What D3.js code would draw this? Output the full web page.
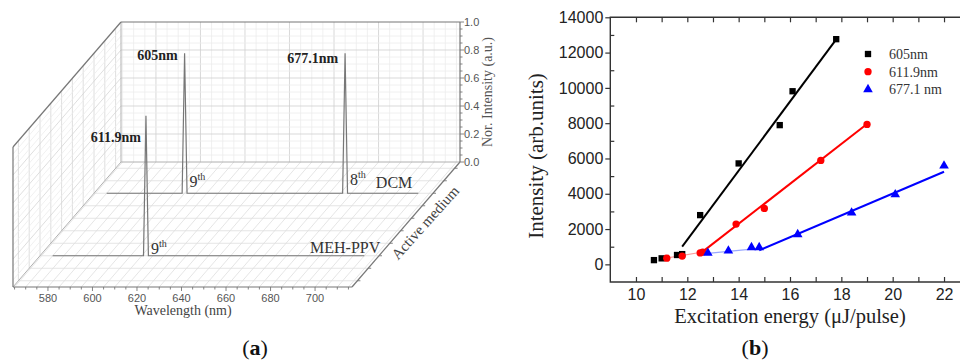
<!DOCTYPE html>
<html>
<head>
<meta charset="utf-8">
<script src="https://cdn.jsdelivr.net/npm/d3@7"></script>
<style>
body { margin: 0; background: #fff; }
</style>
</head>
<body>
<svg id="chart" width="960" height="362"></svg>
<script>
// ---- panel (a): normalized spectra ----
var wavelengthTicks = [580, 600, 620, 640, 660, 680, 700];
var intensityTicks = [0, 0.2, 0.4, 0.6, 0.8, 1.0];
var mediumNames = ['MEH-PPV', 'DCM'];
var mediumDepth = [1, 2];
var mehWavelength = [570, 610.8, 611.9, 613.0, 710];
var mehIntensity = [0, 0, 1, 0, 0];
var dcmWavelength = [570, 603.9, 605, 606.1, 676.0, 677.1, 678.2, 710];
var dcmIntensity = [0, 0, 1, 0, 0, 1, 0, 0];
var peakNames = ['611.9nm', '605nm', '677.1nm'];
var peakWavelength = [611.9, 605, 677.1];
var peakMedium = [0, 1, 1];
var peakOrder = ['9', '9', '8'];

// ---- panel (b): output vs pump energy ----
var energyTicks = [10, 12, 14, 16, 18, 20, 22];
var countTicks = [0, 2000, 4000, 6000, 8000, 10000, 12000, 14000];
var e605 = [10.7, 11.0, 11.6, 11.8, 12.5, 14.0, 15.6, 16.1, 17.8];
var i605 = [240, 340, 530, 580, 2790, 5720, 7890, 9810, 12760];
var e612 = [11.2, 11.8, 12.5, 12.6, 13.9, 15.0, 17.2, 19.0];
var i612 = [350, 470, 650, 690, 2280, 3170, 5890, 7930];
var e677 = [12.8, 13.6, 14.5, 14.8, 16.3, 18.4, 20.1, 22.0];
var i677 = [640, 770, 960, 960, 1700, 2920, 3960, 5590];
var fitE605 = [11.8, 17.8], fitI605 = [1000, 12750];
var lowE612 = [11.0, 12.6], lowI612 = [310, 700];
var fitE612 = [12.6, 19.0], fitI612 = [720, 7950];
var lowE677 = [12.8, 14.8], lowI677 = [620, 900];
var fitE677 = [14.8, 22.0], fitI677 = [800, 5250];
var legendNames = ['605nm', '611.9nm', '677.1 nm'];

var svg = d3.select('#chart');
var serif = '"Liberation Serif", "Times New Roman", serif';
var sans = '"Liberation Sans", Arial, sans-serif';

// ================= panel (a) =================
var wx = d3.scaleLinear().domain([564.3, 716.6]).range([13, 352]);
var vy = d3.scaleLinear().domain([0, 1]).range([287, 147]);
var dz = d3.scaleLinear().domain([0.5, 2.5]).range([0, 1]);
var depthDx = 108, depthDy = -125;
var wMin = 564.3, wMax = 716.6, dMin = 0.5, dMax = 2.5;

function proj(w, d, v) {
	var z = dz(d);
	return [wx(w) + depthDx * z, vy(v) + depthDy * z];
}

var ga = svg.append('g');
function seg(p, q, col, sw) {
	ga.append('line')
		.attr('x1', p[0]).attr('y1', p[1])
		.attr('x2', q[0]).attr('y2', q[1])
		.attr('stroke', col).attr('stroke-width', sw || 0.8);
}

var fineW = d3.range(565, 716, 5);
var fineV = d3.range(0.05, 1, 0.05);
var depthLines = d3.range(0.6, 2.45, 0.2);

// back wall grid
fineW.forEach(function(w) {
	var major = wavelengthTicks.indexOf(w) >= 0;
	seg(proj(w, dMax, 0), proj(w, dMax, 1), major ? '#cfcfcf' : '#ececec');
});
fineV.forEach(function(v) {
	var major = Math.abs(v * 5 - Math.round(v * 5)) < 1e-6;
	seg(proj(wMin, dMax, v), proj(wMax, dMax, v), major ? '#cfcfcf' : '#ececec');
});
// left wall grid
depthLines.forEach(function(d) {
	seg(proj(wMin, d, 0), proj(wMin, d, 1), '#d6d6d6');
});
fineV.forEach(function(v) {
	var major = Math.abs(v * 5 - Math.round(v * 5)) < 1e-6;
	seg(proj(wMin, dMin, v), proj(wMin, dMax, v), major ? '#d6d6d6' : '#ececec');
});
// floor grid
fineW.forEach(function(w) {
	seg(proj(w, dMin, 0), proj(w, dMax, 0), '#dedede');
});
depthLines.forEach(function(d) {
	seg(proj(wMin, d, 0), proj(wMax, d, 0), '#dedede');
});

// box edges
seg(proj(wMin, dMax, 0), proj(wMax, dMax, 0), '#b0b0b0', 1);
seg(proj(wMin, dMax, 0), proj(wMin, dMax, 1), '#b0b0b0', 1);
seg(proj(wMin, dMin, 0), proj(wMin, dMax, 0), '#b0b0b0', 1);
seg(proj(wMin, dMax, 1), proj(wMax, dMax, 1), '#777', 1.2);
seg(proj(wMax, dMax, 0), proj(wMax, dMax, 1), '#777', 1.2);
seg(proj(wMin, dMin, 1), proj(wMin, dMax, 1), '#777', 1.2);
seg(proj(wMin, dMin, 0), proj(wMin, dMin, 1), '#777', 1.2);
seg(proj(wMin, dMin, 0), proj(wMax, dMin, 0), '#777', 1.2);
seg(proj(wMax, dMin, 0), proj(wMax, dMax, 0), '#777', 1.2);

// wavelength ticks on front edge
fineW.forEach(function(w) {
	var p = proj(w, dMin, 0);
	var major = wavelengthTicks.indexOf(w) >= 0;
	seg(p, [p[0], p[1] + (major ? 4 : 2.5)], '#777', 0.9);
});
ga.selectAll('text.wl')
	.data(wavelengthTicks)
	.enter().append('text')
	.attr('x', function(d) { return proj(d, dMin, 0)[0]; })
	.attr('y', 302)
	.attr('text-anchor', 'middle')
	.attr('font-family', sans).attr('font-size', 11).attr('fill', '#555')
	.text(function(d) { return d; });
ga.append('text')
	.attr('x', 183).attr('y', 315)
	.attr('text-anchor', 'middle')
	.attr('font-family', serif).attr('font-size', 14).attr('fill', '#444')
	.text('Wavelength (nm)');

// intensity ticks on back right edge
fineV.concat([0, 1]).forEach(function(v) {
	var p = proj(wMax, dMax, v);
	var major = Math.abs(v * 5 - Math.round(v * 5)) < 1e-6;
	seg(p, [p[0] + (major ? 4 : 2.5), p[1]], '#777', 0.9);
});
ga.selectAll('text.int')
	.data(intensityTicks)
	.enter().append('text')
	.attr('x', proj(wMax, dMax, 0)[0] + 4)
	.attr('y', function(d) { return proj(wMax, dMax, d)[1]; })
	.attr('dy', '0.35em')
	.attr('font-family', sans).attr('font-size', 11).attr('fill', '#555')
	.text(function(d) { return d.toFixed(1); });
ga.append('text')
	.attr('transform', 'translate(492,92) rotate(-90)')
	.attr('text-anchor', 'middle')
	.attr('font-family', serif).attr('font-size', 14).attr('fill', '#555')
	.text('Nor. Intensity (a.u.)');

// depth ticks on floor right edge
depthLines.forEach(function(d) {
	var p = proj(wMax, d, 0);
	seg(p, [p[0] + 3, p[1]], '#777', 0.9);
});
ga.append('text')
	.attr('transform', 'translate(429,226) rotate(-48)')
	.attr('text-anchor', 'middle')
	.attr('font-family', serif).attr('font-size', 15).attr('fill', '#444')
	.text('Active medium');

// spectra
var spectra = [
	{w: mehWavelength, v: mehIntensity, d: mediumDepth[0]},
	{w: dcmWavelength, v: dcmIntensity, d: mediumDepth[1]}
];
var specLine = d3.line();
spectra.forEach(function(s) {
	var pts = s.w.map(function(w, i) { return proj(w, s.d, s.v[i]); });
	ga.append('path')
		.attr('d', specLine(pts))
		.attr('fill', 'none')
		.attr('stroke', '#777')
		.attr('stroke-width', 1.2);
});

// medium labels
var mediumLabelDx = [16, -6], mediumLabelDy = [-3, -5];
mediumNames.forEach(function(name, i) {
	var p = proj(710, mediumDepth[i], 0);
	ga.append('text')
		.attr('x', p[0] + mediumLabelDx[i]).attr('y', p[1] + mediumLabelDy[i])
		.attr('text-anchor', 'end')
		.attr('font-family', serif).attr('font-size', 16).attr('fill', '#333')
		.text(name);
});

// peak labels and diffraction orders
var peakLabelDx = [-5, -7, -7], peakLabelDy = [26, 7, 10];
var orderDy = [-2, -6, -8];
peakNames.forEach(function(name, i) {
	var d = mediumDepth[peakMedium[i]];
	var top = proj(peakWavelength[i], d, 1);
	var base = proj(peakWavelength[i], d, 0);
	ga.append('text')
		.attr('x', top[0] + peakLabelDx[i]).attr('y', top[1] + peakLabelDy[i])
		.attr('text-anchor', 'end')
		.attr('font-family', serif).attr('font-size', 14).attr('font-weight', 'bold')
		.attr('fill', '#222')
		.text(name);
	var t = ga.append('text')
		.attr('x', base[0] + 5).attr('y', base[1] + orderDy[i])
		.attr('font-family', serif).attr('font-size', 16).attr('fill', '#333');
	t.append('tspan').text(peakOrder[i]);
	t.append('tspan').attr('font-size', 10).attr('dy', -7).text('th');
});

ga.append('text')
	.attr('x', 255).attr('y', 355)
	.attr('text-anchor', 'middle')
	.attr('font-family', serif).attr('font-size', 22).attr('fill', '#111')
	.html('(<tspan font-weight="bold">a</tspan>)');

// ================= panel (b) =================
var gb = svg.append('g');
var x = d3.scaleLinear().domain([9, 23]).range([610.3, 969.7]);
var y = d3.scaleLinear().domain([-1000, 14000]).range([282, 17.3]);

// frame
gb.append('path')
	.attr('d', 'M' + x(23) + ',' + y(14000) + 'H' + x(9) + 'V' + y(-1000) + 'H' + x(23))
	.attr('fill', 'none').attr('stroke', '#333').attr('stroke-width', 1.4);

// left axis: major ticks out, minor ticks in
var yMajor = d3.axisLeft(y).tickValues(countTicks).tickSize(5).tickPadding(2).tickFormat(d3.format('d'));
gb.append('g').attr('transform', 'translate(' + x(9) + ',0)').call(yMajor)
	.call(function(g) {
		g.select('.domain').remove();
		g.selectAll('line').attr('stroke', '#333').attr('stroke-width', 1.2);
		g.selectAll('text').attr('font-family', sans).attr('font-size', 16).attr('fill', '#222');
	});
var yMinor = d3.axisRight(y).tickValues(d3.range(1000, 14000, 2000)).tickSize(4).tickFormat('');
gb.append('g').attr('transform', 'translate(' + x(9) + ',0)').call(yMinor)
	.call(function(g) {
		g.select('.domain').remove();
		g.selectAll('line').attr('stroke', '#333').attr('stroke-width', 1.2);
	});

// bottom axis: ticks inward
var xAxis = d3.axisBottom(x).tickValues(energyTicks).tickSize(0).tickPadding(6.5);
gb.append('g').attr('transform', 'translate(0,' + y(-1000) + ')').call(xAxis)
	.call(function(g) {
		g.select('.domain').remove();
		g.selectAll('text').attr('font-family', sans).attr('font-size', 16).attr('fill', '#222');
	});
var xIn = d3.axisTop(x).tickValues(d3.range(10, 23, 1)).tickSize(5).tickFormat('');
gb.append('g').attr('transform', 'translate(0,' + (y(-1000) - 5) + ')').call(xIn)
	.call(function(g) {
		g.select('.domain').remove();
		g.selectAll('line').attr('stroke', '#333').attr('stroke-width', 1.2).attr('y2', 5);
	});
var xTop = d3.axisBottom(x).tickValues(d3.range(10, 23, 1)).tickSize(5).tickFormat('');
gb.append('g').attr('transform', 'translate(0,' + y(14000) + ')').call(xTop)
	.call(function(g) {
		g.select('.domain').remove();
		g.selectAll('line').attr('stroke', '#333').attr('stroke-width', 1.2);
	});

gb.append('text')
	.attr('transform', 'translate(543,156) rotate(-90)')
	.attr('text-anchor', 'middle')
	.attr('font-family', serif).attr('font-size', 21).attr('fill', '#222')
	.text('Intensity (arb.units)');
gb.append('text')
	.attr('x', 790).attr('y', 323)
	.attr('text-anchor', 'middle')
	.attr('font-family', serif).attr('font-size', 20.5).attr('fill', '#222')
	.text('Excitation energy (\u03bcJ/pulse)');

// fit lines
var fitLine = d3.line()
	.x(function(d) { return x(d[0]); })
	.y(function(d) { return y(d[1]); });
function drawFit(es, is, col, sw) {
	gb.append('path')
		.attr('d', fitLine(es.map(function(e, i) { return [e, is[i]]; })))
		.attr('fill', 'none').attr('stroke', col).attr('stroke-width', sw);
}
drawFit(lowE612, lowI612, '#ff9a9a', 1.2);
drawFit(lowE677, lowI677, '#9aa8ff', 1.2);
drawFit(fitE605, fitI605, '#000', 2);
drawFit(fitE612, fitI612, '#ff0000', 2);
drawFit(fitE677, fitI677, '#0000ff', 2);

// markers
var symSquare = d3.symbol().type(d3.symbolSquare).size(40);
var symCircle = d3.symbol().type(d3.symbolCircle).size(42);
var symTriangle = d3.symbol().type(d3.symbolTriangle).size(40);
function drawPts(es, is, sym, col) {
	gb.append('g').selectAll('path')
		.data(es)
		.enter().append('path')
		.attr('d', sym)
		.attr('transform', function(d, i) { return 'translate(' + x(d) + ',' + y(is[i]) + ')'; })
		.attr('fill', col);
}
drawPts(e605, i605, symSquare, '#000');
drawPts(e612, i612, symCircle, '#ff0000');
drawPts(e677, i677, symTriangle, '#0000ff');

// legend
var legendSyms = [symSquare, symCircle, symTriangle];
var legendCols = ['#000', '#ff0000', '#0000ff'];
legendNames.forEach(function(name, i) {
	var ly = 54 + i * 17.7;
	gb.append('path').attr('d', legendSyms[i])
		.attr('transform', 'translate(868,' + ly + ')')
		.attr('fill', legendCols[i]);
	gb.append('text')
		.attr('x', 889).attr('y', ly).attr('dy', '0.35em')
		.attr('font-family', serif).attr('font-size', 14).attr('fill', '#333')
		.text(name);
});

gb.append('text')
	.attr('x', 755).attr('y', 355)
	.attr('text-anchor', 'middle')
	.attr('font-family', serif).attr('font-size', 22).attr('fill', '#111')
	.html('(<tspan font-weight="bold">b</tspan>)');
</script>
</body>
</html>
